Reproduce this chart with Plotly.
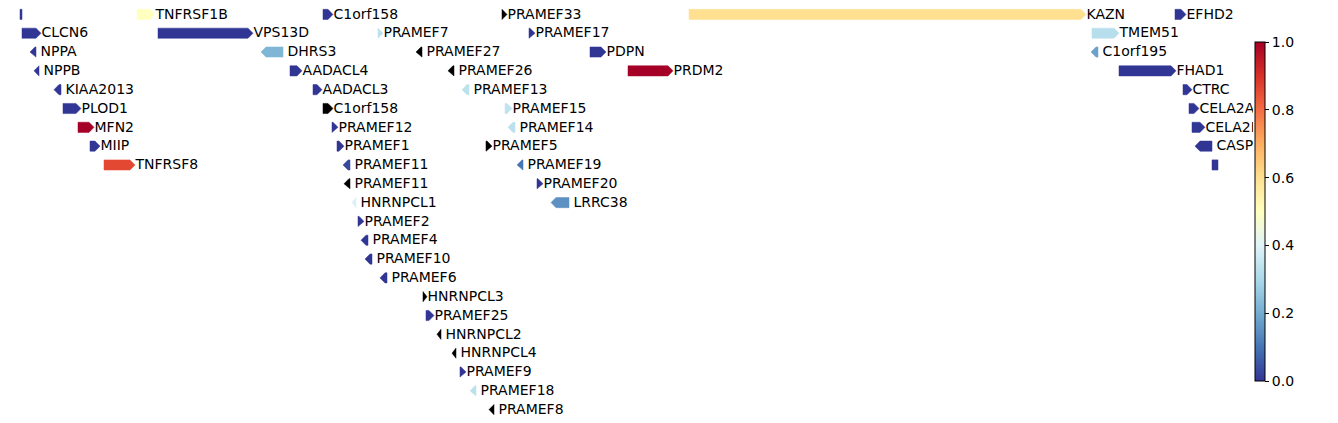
import plotly.graph_objects as go
from plotly.colors import sample_colorscale

# ---- data (positions in track units, rows top->bottom) ----
gene_names = ["", "TNFRSF1B", "C1orf158", "PRAMEF33", "KAZN", "EFHD2",
              "CLCN6", "VPS13D", "PRAMEF7", "PRAMEF17", "TMEM51",
              "NPPA", "DHRS3", "PRAMEF27", "PDPN", "C1orf195",
              "NPPB", "AADACL4", "PRAMEF26", "PRDM2", "FHAD1",
              "KIAA2013", "AADACL3", "PRAMEF13", "CTRC",
              "PLOD1", "C1orf158", "PRAMEF15", "CELA2A",
              "MFN2", "PRAMEF12", "PRAMEF14", "CELA2B",
              "MIIP", "PRAMEF1", "PRAMEF5", "CASP9",
              "TNFRSF8", "PRAMEF11", "PRAMEF19", "",
              "PRAMEF11", "PRAMEF20",
              "HNRNPCL1", "LRRC38",
              "PRAMEF2", "PRAMEF4", "PRAMEF10", "PRAMEF6", "HNRNPCL3",
              "PRAMEF25", "HNRNPCL2", "HNRNPCL4", "PRAMEF9", "PRAMEF18", "PRAMEF8"]
gene_rows = [0, 0, 0, 0, 0, 0,
             1, 1, 1, 1, 1,
             2, 2, 2, 2, 2,
             3, 3, 3, 3, 3,
             4, 4, 4, 4,
             5, 5, 5, 5,
             6, 6, 6, 6,
             7, 7, 7, 7,
             8, 8, 8, 8,
             9, 9,
             10, 10,
             11, 12, 13, 14, 15,
             16, 17, 18, 19, 20, 21]
gene_starts = [20, 137, 323, 502, 689, 1175,
               22, 158, 378, 529, 1092,
               30, 261, 416, 590, 1091,
               34, 290, 448, 628, 1119,
               54, 313, 462, 1183,
               63, 323, 505, 1189,
               78, 332, 508, 1192,
               90, 337, 486, 1195,
               104, 343, 517, 1212,
               344, 537,
               352, 551,
               358, 361, 365, 380, 423,
               426, 437, 452, 460, 470, 489]
gene_ends = [22, 155, 333, 507, 1086, 1186,
             41, 253, 383, 535, 1119,
             36, 283, 422, 606, 1098,
             39, 302, 454, 673, 1176,
             61, 322, 469, 1192,
             81, 333, 512, 1199,
             94, 338, 515, 1205,
             100, 344, 492, 1212,
             135, 350, 523, 1218,
             350, 543,
             356, 569,
             364, 368, 372, 387, 427,
             434, 441, 456, 466, 476, 494]
gene_strands = [0, 1, 1, 1, 1, 1,
                1, 1, 1, 1, 1,
                -1, -1, -1, 1, -1,
                -1, 1, -1, 1, 1,
                -1, 1, -1, 1,
                1, 1, 1, 1,
                1, 1, -1, 1,
                1, 1, 1, -1,
                1, -1, -1, 0,
                -1, 1,
                -1, -1,
                1, -1, -1, -1, 1,
                1, -1, -1, 1, -1, -1]
N = None
gene_values = [0.0, 0.5, 0.0, N, 0.6, 0.0,
               0.0, 0.0, 0.33, 0.0, 0.32,
               0.0, 0.22, N, 0.0, 0.18,
               0.0, 0.0, N, 1.0, 0.0,
               0.0, 0.0, 0.33, 0.0,
               0.0, N, 0.34, 0.0,
               1.0, 0.0, 0.33, 0.0,
               0.0, 0.0, N, 0.0,
               0.86, 0.03, 0.1, 0.0,
               N, 0.0,
               0.39, 0.15,
               0.0, 0.0, 0.0, 0.0, N,
               0.0, N, N, 0.0, 0.33, N]

cbar_ticks = [0.0, 0.2, 0.4, 0.6, 0.8, 1.0]

# ---- styling ----
HEAD = 5.0
HALF = 0.27
FONT = "DejaVu Sans"
W, H = 1338, 423
X_RIGHT = 1253
ROW_PX = 18.82
Y_TOP = -14.4 / ROW_PX
Y_BOT = Y_TOP + H / ROW_PX

fig = go.Figure()

for name, r, s, e, st, v in zip(gene_names, gene_rows, gene_starts, gene_ends,
                                gene_strands, gene_values):
    color = "black" if v is None else sample_colorscale("RdYlBu_r", [v])[0]
    L = e - s
    hl = min(HEAD, L)
    if st == 1:
        xs = [s, e - hl, e, e - hl, s, s]
        ys = [r - HALF, r - HALF, r, r + HALF, r + HALF, r - HALF]
    elif st == -1:
        xs = [e, s + hl, s, s + hl, e, e]
        ys = [r - HALF, r - HALF, r, r + HALF, r + HALF, r - HALF]
    else:
        xs = [s, e, e, s, s]
        ys = [r - HALF, r - HALF, r + HALF, r + HALF, r - HALF]
    fig.add_trace(go.Scatter(x=xs, y=ys, mode="lines", fill="toself",
                             fillcolor=color, line=dict(color=color, width=0.5),
                             hoverinfo="skip", showlegend=False))
    if name:
        lx = e + (0.5 if st >= 0 else 4.5)
        fig.add_trace(go.Scatter(x=[lx], y=[r + 0.04], mode="text", text=[name],
                                 textposition="middle right",
                                 textfont=dict(family=FONT, size=14, color="black"),
                                 marker=dict(size=0.1), cliponaxis=True,
                                 hoverinfo="skip", showlegend=False))

# colorbar carrier
fig.add_trace(go.Scatter(
    x=[None], y=[None], mode="markers",
    marker=dict(colorscale="RdYlBu_r", cmin=0, cmax=1, color=[0], showscale=True,
                colorbar=dict(
                    xref="container", yref="container",
                    x=1255 / W, xanchor="left",
                    y=1 - 42 / H, yanchor="top",
                    lenmode="pixels", len=339,
                    thickness=10, xpad=0, ypad=0,
                    outlinewidth=1, outlinecolor="black",
                    tickvals=cbar_ticks, ticktext=[f"{t:.1f}" for t in cbar_ticks],
                    ticks="outside", ticklen=4, tickcolor="black",
                    tickfont=dict(family=FONT, size=14, color="black"),
                )),
    hoverinfo="skip", showlegend=False))

fig.update_layout(
    width=W, height=H,
    margin=dict(l=0, r=W - X_RIGHT, t=0, b=0),
    paper_bgcolor="white", plot_bgcolor="white",
    xaxis=dict(range=[0, X_RIGHT], visible=False, showgrid=False, zeroline=False),
    yaxis=dict(range=[Y_BOT, Y_TOP], visible=False, showgrid=False, zeroline=False),
)

fig.write_html("out.html", config={"displayModeBar": False},
               post_script="document.body.style.margin='0';")
